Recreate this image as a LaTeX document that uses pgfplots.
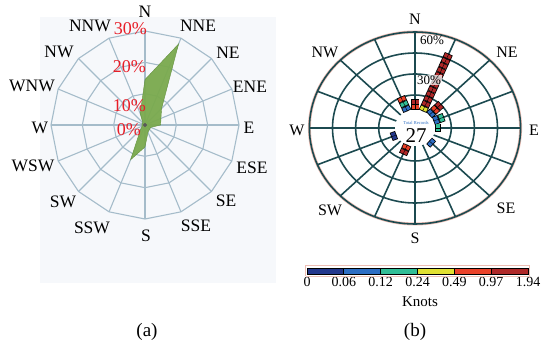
\documentclass[border=0pt]{standalone}
\usepackage{pgfplots}
\pgfplotsset{compat=1.18}
\usepackage{fontspec}
\setmainfont{Liberation Serif}
\definecolor{grida}{RGB}{165,188,202}
\definecolor{gridb}{RGB}{28,74,80}
\definecolor{bga}{RGB}{246,248,251}
\definecolor{leaf}{RGB}{122,170,78}
\definecolor{leafdk}{RGB}{100,145,62}
\definecolor{pct}{RGB}{232,30,40}
\definecolor{cA}{RGB}{35,55,140}
\definecolor{cB}{RGB}{45,110,195}
\definecolor{cC}{RGB}{50,190,150}
\definecolor{cD}{RGB}{225,225,50}
\definecolor{cE}{RGB}{235,65,40}
\definecolor{cF}{RGB}{175,40,40}
\definecolor{halo}{RGB}{238,190,180}
\newcommand{\fs}[1]{\fontsize{#1}{#1}\selectfont}
% one record cell of a wind-rose bar: angle, start %, end %, colour
\newcommand{\seg}[4]{%
 \addplot[draw=black, line width=8.6pt, data cs=polar, forget plot] table[x=a, y expr=\thisrow{p}+13, row sep=\\] {a p\\ #1 #2\\ #1 #3\\};%
 \addplot[draw=#4, line width=7pt, shorten <=0.8pt, shorten >=0.8pt, data cs=polar, forget plot] table[x=a, y expr=\thisrow{p}+13, row sep=\\] {a p\\ #1 #2\\ #1 #3\\};%
 \addplot[draw=black, line width=0.4pt, data cs=polar, forget plot] table[x=a, y expr=\thisrow{p}+13, row sep=\\] {a p\\ #1 #2\\ #1 #3\\};%
}
\begin{document}
\begin{tikzpicture}[x=1pt,y=1pt]
\useasboundingbox (0,0) rectangle (541,-345);
\fill[bga] (40,-17) rectangle (276,-283);
% ---------------- panel (a) ----------------
\begin{axis}[at={(145pt,-125pt)}, anchor=center, scale only axis,
  width=188pt, height=188pt, xmin=-30, xmax=30, ymin=-30, ymax=30,
  hide axis, clip=false]
\pgfplotsinvokeforeach{10,20,30}{
  \addplot[grida, line width=1.1pt, data cs=polar, forget plot] coordinates {(0,#1) (22.5,#1) (45,#1) (67.5,#1) (90,#1) (112.5,#1) (135,#1) (157.5,#1) (180,#1) (202.5,#1) (225,#1) (247.5,#1) (270,#1) (292.5,#1) (315,#1) (337.5,#1) (360,#1)};
}
\pgfplotsinvokeforeach{0,22.5,...,337.5}{
  \addplot[grida, line width=1.1pt, data cs=polar, forget plot] coordinates {(#1,0) (#1,30)};
}
% frequency (%) by direction: N NNE NE ENE E ESE SE SSE S SSW SW WSW W WNW NW NNW
\addplot[fill=leaf, draw=leafdk, line width=0.4pt, fill opacity=0.95, data cs=polar] coordinates {
 (90,14.5) (67.5,28) (45,7.5) (22.5,5.5) (0,5) (-22.5,2) (-45,2) (-67.5,2.5)
 (-90,7) (-112.5,12) (-135,2) (-157.5,1) (180,1) (157.5,1) (135,1) (112.5,4) (90,14.5)};
\addplot[only marks, mark=*, mark size=1.8pt, color=gray!70!black] coordinates {(0,0)};
\end{axis}
\begin{scope}[every node/.style={font=\fs{17.5}, inner sep=0pt}]
\node at (145,-12) {N};
\node at (198,-26) {NNE};
\node at (228,-53) {NE};
\node at (250,-87) {ENE};
\node at (249,-128) {E};
\node at (252,-168) {ESE};
\node at (226,-201) {SE};
\node at (196,-226) {SSE};
\node at (146,-236) {S};
\node at (92,-228) {SSW};
\node at (63,-202) {SW};
\node at (33,-166) {WSW};
\node at (40,-128) {W};
\node at (32,-86) {WNW};
\node at (59,-52) {NW};
\node at (90,-26) {NNW};
\end{scope}
\begin{scope}[every node/.style={font=\fs{18}, inner sep=0pt, text=pct, anchor=east}]
\node at (147,-29) {30\%};
\node at (146,-67) {20\%};
\node at (146,-106) {10\%};
\node at (141,-130) {0\%};
\end{scope}
\node[font=\fs{19}] at (147,-332) {(a)};
% ---------------- panel (b) ----------------
\begin{axis}[at={(415pt,-128pt)}, anchor=center, scale only axis,
  width=211.2pt, height=192pt, xmin=-68.6, xmax=68.6, ymin=-68.6, ymax=68.6,
  hide axis, clip=false]
\draw[halo, line width=3pt] (axis cs:0,0) ellipse [x radius=105.6pt, y radius=96pt];
\draw[gridb, line width=1.6pt] (axis cs:0,0) ellipse [x radius=36.3pt, y radius=33pt];
\draw[gridb, line width=1.6pt] (axis cs:0,0) ellipse [x radius=59.4pt, y radius=54pt];
\draw[gridb, line width=1.6pt] (axis cs:0,0) ellipse [x radius=82.5pt, y radius=75pt];
\draw[gridb, line width=1.6pt] (axis cs:0,0) ellipse [x radius=105.6pt, y radius=96pt];
\pgfplotsinvokeforeach{0,22.5,...,337.5}{
  \addplot[gridb, line width=1.6pt, data cs=polar, forget plot] coordinates {(#1,13) (#1,68.6)};
}
\fill[white] (axis cs:0,0) ellipse [x radius=20pt, y radius=18pt];
% N
\seg{90}{0}{3.7}{cE}
\seg{90}{3.7}{7.4}{cF}
% NNE
\seg{67.5}{0}{3.7}{cD}
\seg{67.5}{3.7}{7.4}{cF}
\seg{67.5}{7.4}{11.1}{cF}
\seg{67.5}{11.1}{14.8}{cF}
\seg{67.5}{14.8}{18.5}{cF}
\seg{67.5}{18.5}{22.2}{cF}
\seg{67.5}{22.2}{25.9}{cF}
\seg{67.5}{25.9}{29.6}{cF}
\seg{67.5}{29.6}{33.3}{cF}
\seg{67.5}{33.3}{37.0}{cF}
\seg{67.5}{37.0}{40.7}{cF}
\seg{67.5}{40.7}{44.4}{cF}
% NE
\seg{45}{0}{3.7}{cB}
\seg{45}{3.7}{7.4}{cE}
\seg{45}{7.4}{11.1}{cF}
% ENE
\seg{22.5}{0}{3.7}{cB}
\seg{22.5}{3.7}{7.4}{cC}
% E
\seg{0}{0}{3.7}{cC}
% SE
\seg{-45}{0}{3.7}{cB}
% SSW
\seg{-112.5}{0}{3.7}{cE}
\seg{-112.5}{3.7}{7.4}{cF}
% WSW
\seg{-157.5}{0}{3.7}{cA}
% NNW
\seg{112.5}{0}{3.7}{cB}
\seg{112.5}{3.7}{7.4}{cC}
\seg{112.5}{7.4}{11.1}{cE}
\end{axis}
\begin{scope}[every node/.style={font=\fs{16}, inner sep=0pt}]
\node at (415,-19) {N};
\node at (507,-52) {NE};
\node at (534,-130) {E};
\node at (506,-208) {SE};
\node at (415,-238) {S};
\node at (330,-210) {SW};
\node at (297,-130) {W};
\node at (325,-52) {NW};
\end{scope}
\node[font=\fs{13}, inner sep=0pt] at (432,-40) {60\%};
\node[font=\fs{13}, inner sep=0.6pt, fill=white, fill opacity=0.75, text opacity=1] at (429,-80) {30\%};
\node[font=\fs{4.5}, inner sep=0pt, text=cB] at (416,-123) {Total Records};
\node[font=\fs{21}, inner sep=0pt] at (416,-136) {27};
% ---------------- colour bar ----------------
\begin{axis}[at={(417.5pt,-271pt)}, anchor=center, scale only axis,
  width=221pt, height=6pt, xmin=0, xmax=6, ymin=0, ymax=1, clip=false,
  axis line style={draw=none}, ytick=\empty, xtick={0,1,2,3,4,5,6},
  xticklabels={0,0.06,0.12,0.24,0.49,0.97,1.94}, major tick length=0pt,
  xticklabel style={font=\fs{14}, inner sep=0pt, yshift=-3pt}]
\addplot[draw=halo, line width=1pt, forget plot] coordinates {(-0.04,-0.35) (6.04,-0.35) (6.04,1.35) (-0.04,1.35) (-0.04,-0.35)};
\addplot[fill=cA, draw=black, line width=0.9pt] coordinates {(0,0) (1,0) (1,1) (0,1) (0,0)};
\addplot[fill=cB, draw=black, line width=0.9pt] coordinates {(1,0) (2,0) (2,1) (1,1) (1,0)};
\addplot[fill=cC, draw=black, line width=0.9pt] coordinates {(2,0) (3,0) (3,1) (2,1) (2,0)};
\addplot[fill=cD, draw=black, line width=0.9pt] coordinates {(3,0) (4,0) (4,1) (3,1) (3,0)};
\addplot[fill=cE, draw=black, line width=0.9pt] coordinates {(4,0) (5,0) (5,1) (4,1) (4,0)};
\addplot[fill=cF, draw=black, line width=0.9pt] coordinates {(5,0) (6,0) (6,1) (5,1) (5,0)};
\end{axis}
\node[font=\fs{15}, inner sep=0pt] at (420,-302) {Knots};
\node[font=\fs{19}] at (415,-332) {(b)};
\end{tikzpicture}
\end{document}
